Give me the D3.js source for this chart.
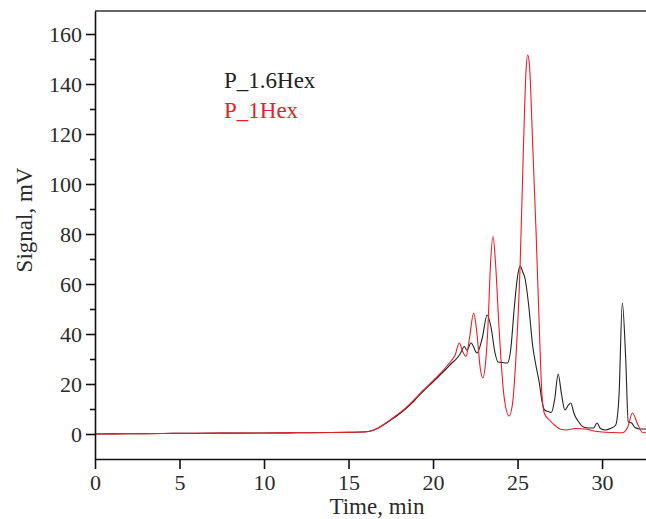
<!DOCTYPE html>
<html>
<head>
<meta charset="utf-8">
<script src="https://cdn.jsdelivr.net/npm/d3@7/dist/d3.min.js"></script>
<style>
body { margin: 0; background: #fff; }
svg text { font-family: "Liberation Serif", "Times New Roman", Times, serif; fill: #2b2b2b; }
</style>
</head>
<body>
<svg id="chart"></svg>
<script>
var screen = {width: 646, height: 519};
var margins = {top: 11, right: 0, bottom: 60, left: 95};

// P_1.6Hex (black)
var timeBlack = [0, 2, 4, 6, 8, 10, 12, 14, 15, 15.8, 16.3, 16.7, 17.1, 17.5, 17.9, 18.4, 18.9, 19.4, 19.9, 20.4, 20.8, 21.1, 21.4,
    21.6, 21.85, 22.0, 22.25, 22.6, 22.9, 23.2, 23.45, 23.65, 23.85, 24.1, 24.4, 24.6, 24.8, 25.0, 25.15, 25.3, 25.45, 25.65,
    25.9, 26.1, 26.3, 26.45, 26.6, 26.8, 27.0, 27.2, 27.4, 27.6, 27.8, 28.0, 28.15, 28.35, 28.6, 28.9, 29.2, 29.5, 29.7, 29.9,
    30.2, 30.5, 30.8, 31.0, 31.2, 31.4, 31.55, 31.75, 31.95, 32.25, 32.6];
var signalBlack = [0, 0.1, 0.2, 0.3, 0.35, 0.4, 0.5, 0.6, 0.7, 0.8, 1.2, 2.2, 3.8, 5.6, 7.5, 10.2, 13.4, 17, 20.2, 23.5, 26.2, 28.3, 30.2,
    32, 35, 33.5, 36.4, 32.4, 38, 47.6, 42, 33, 28.8, 28.6, 28.4, 34, 50, 63, 67.2, 65, 62, 52,
    35, 27, 20, 13, 9.6, 9, 8.6, 14, 24, 16, 9.6, 11.5, 12.4, 8, 5, 2.8, 2.4, 2.4, 4.4, 2.2,
    1.6, 2.2, 3.5, 15, 52.4, 30, 4.8, 4.4, 2.6, 2, 2];

// P_1Hex (red)
var timeRed = [0, 2, 4, 6, 8, 10, 12, 14, 15, 15.8, 16.3, 16.7, 17.1, 17.5, 17.9, 18.4, 18.9, 19.4, 19.9, 20.4, 20.8, 21.1, 21.3,
    21.55, 21.75, 21.95, 22.15, 22.4, 22.6, 22.8, 22.95, 23.1, 23.25, 23.4, 23.55, 23.7, 23.9, 24.2, 24.5, 24.7, 24.9, 25.15,
    25.35, 25.5, 25.6, 25.7, 25.9, 26.1, 26.3, 26.45, 26.6, 26.9, 27.2, 27.5, 27.9, 28.4, 29.0, 29.5, 30.0, 30.6, 31.2, 31.5,
    31.8, 32.1, 32.4, 32.6];
var signalRed = [0, 0.1, 0.2, 0.3, 0.35, 0.4, 0.5, 0.6, 0.7, 0.8, 1.1, 2.2, 3.9, 5.8, 7.8, 10.5, 13.8, 17.4, 20.6, 24, 27, 29.5, 31.5,
    36.4, 33, 31, 38, 48.4, 40, 26, 22.4, 28, 43, 68, 79, 68, 43, 15, 7.2, 12, 30, 67,
    115, 145, 151.6, 148, 115, 80, 40, 15, 8, 5.5, 3.5, 2, 1.6, 2.2, 2, 1.2, 0.8, 0.6, 0.5, 2.5,
    8.4, 4, 0.6, 0.5];

var seriesNames = ["P_1.6Hex", "P_1Hex"];
var seriesColors = ["#222222", "#ee1c24"];

var yTicks = [0, 20, 40, 60, 80, 100, 120, 140, 160];
var yMinorTicks = [10, 30, 50, 70, 90, 110, 130, 150];
var xTicks = [0, 5, 10, 15, 20, 25, 30];

var svg = d3.select("#chart")
    .attr("width", screen.width)
    .attr("height", screen.height);

var xScale = d3.scaleLinear()
    .domain([0, 32.6])
    .range([margins.left, screen.width - margins.right]);

var yScale = d3.scaleLinear()
    .domain([-10, 169.2])
    .range([screen.height - margins.bottom, margins.top]);

svg.append("defs").append("clipPath")
    .attr("id", "plotclip")
    .append("rect")
    .attr("x", margins.left)
    .attr("y", margins.top)
    .attr("width", screen.width - margins.left)
    .attr("height", yScale(-10) - margins.top);

var series = [
    {name: seriesNames[0], color: seriesColors[0], pts: d3.zip(timeBlack, signalBlack)},
    {name: seriesNames[1], color: seriesColors[1], pts: d3.zip(timeRed, signalRed)}
];

var lineGenerator = d3.line()
    .x(function(d){return xScale(d[0]);})
    .y(function(d){return yScale(d[1]);})
    .curve(d3.curveMonotoneX);

svg.append("g")
    .attr("clip-path", "url(#plotclip)")
    .selectAll("path")
    .data(series)
    .enter()
    .append("path")
    .attr("fill", "none")
    .attr("stroke", function(d){return d.color;})
    .attr("stroke-width", 1.1)
    .attr("d", function(d){return lineGenerator(d.pts);});

// top frame line
svg.append("line")
    .attr("x1", margins.left)
    .attr("x2", screen.width)
    .attr("y1", yScale.range()[1])
    .attr("y2", yScale.range()[1])
    .attr("stroke", "#333")
    .attr("stroke-width", 1.5);

var xAxis = d3.axisBottom(xScale)
    .tickValues(xTicks)
    .tickSize(10)
    .tickPadding(5)
    .tickSizeOuter(0);

var gx = svg.append("g")
    .attr("transform", "translate(0," + yScale(-10) + ")")
    .call(xAxis);

var yAxis = d3.axisLeft(yScale)
    .tickValues(yTicks)
    .tickSize(9)
    .tickPadding(4)
    .tickSizeOuter(0);

var gy = svg.append("g")
    .attr("transform", "translate(" + margins.left + ",0)")
    .call(yAxis);

var gyMinor = svg.append("g")
    .attr("transform", "translate(" + margins.left + ",0)")
    .call(d3.axisLeft(yScale).tickValues(yMinorTicks).tickSize(5).tickFormat("").tickSizeOuter(0));
gyMinor.select(".domain").remove();

svg.selectAll(".domain").attr("stroke", "#111").attr("stroke-width", 1.6);
svg.selectAll(".tick line").attr("stroke", "#111").attr("stroke-width", 1.6);
svg.selectAll(".tick text")
    .attr("font-size", 22)
    .attr("fill", "#2b2b2b");

svg.append("text")
    .attr("x", 377)
    .attr("y", 514)
    .attr("text-anchor", "middle")
    .attr("font-size", 23)
    .text("Time, min");

svg.append("text")
    .attr("transform", "translate(32," + 220 + ") rotate(-90)")
    .attr("text-anchor", "middle")
    .attr("font-size", 23)
    .text("Signal, mV");

// legend
svg.append("g")
    .selectAll("text")
    .data(series)
    .enter()
    .append("text")
    .attr("x", 224)
    .attr("y", function(d, i){return 88 + i * 30;})
    .attr("font-size", 23)
    .style("fill", function(d){return d.color;})
    .text(function(d){return d.name;});
</script>
</body>
</html>
